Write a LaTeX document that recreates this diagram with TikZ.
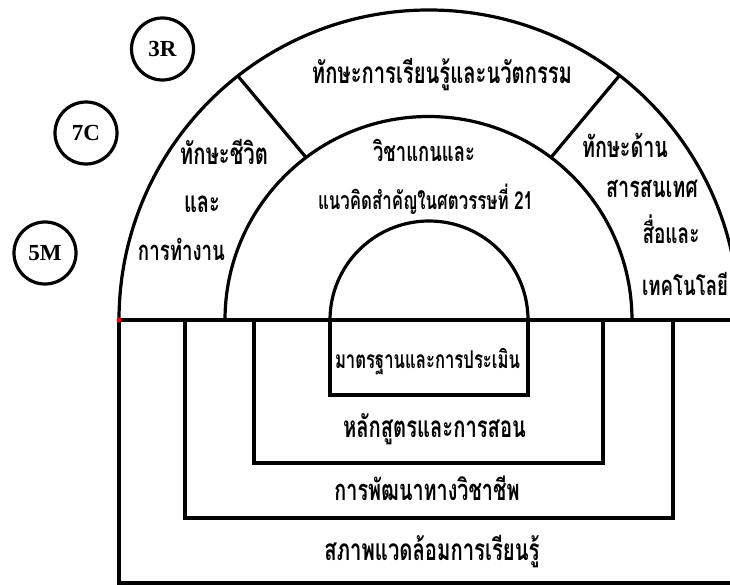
\documentclass[tikz,border=0pt]{standalone}
\usepackage{graphicx}
\usepackage{fontspec}
\setmainfont{Liberation Serif}
\newfontfamily\thai[Script=Thai,FakeStretch=0.68]{Loma}
\usetikzlibrary{calc}
\newcommand{\thw}[2]{\resizebox{#1pt}{!}{\thai\bfseries #2}}
\begin{document}
\begin{tikzpicture}[x=1pt,y=-1pt,
  ln/.style={line width=3.2pt},
  th/.style={anchor=base,inner sep=0pt},
  circ/.style={circle,draw,line width=3.2pt,minimum size=62pt,inner sep=0pt,
    font=\fontsize{23}{23}\selectfont\bfseries}]
\useasboundingbox (0,0) rectangle (730,585);
\clip (0,0) rectangle (730,585);
\fill[white] (0,0) rectangle (730,585);
\coordinate (C) at (428.5,320);
% arches
\draw[ln] (119,320) arc[start angle=180,end angle=360,radius=310];
\draw[ln] (225,320) arc[start angle=180,end angle=360,radius=203.5];
\draw[ln] (330,320) arc[start angle=180,end angle=360,radius=99];
\draw[ln] ($(C)+(232:310)$) -- ($(C)+(233:203.5)$);
\draw[ln] ($(C)+(308:310)$) -- ($(C)+(307:203.5)$);
% base line and boxes
\draw[ln] (119,320) -- (736,320);
\draw[ln] (119,320) -- (119,583) -- (736,583);
\draw[ln] (185,320) -- (185,518) -- (673,518) -- (673,320);
\draw[ln] (254,320) -- (254,463) -- (603,463) -- (603,320);
\draw[ln] (330,320) -- (330,395) -- (528,395) -- (528,320);
\fill[red] (119,320) circle[radius=2.5];
% circles
\node[circ] (c3r) at (162.5,49) {3R};
\node[circ] (c7c) at (86,133) {7C};
\node[circ] (c5m) at (45,253) {5M};
% texts
\node[th] (t1) at (442,84) {\thw{260}{ทักษะการเรียนรู้และนวัตกรรม}};
\node[th] (l1) at (224,165) {\thw{88}{ทักษะชีวิต}};
\node[th] (l2) at (202,213) {\thw{36}{และ}};
\node[th] (l3) at (181.5,260) {\thw{87}{การทำงาน}};
\node[th] (m1) at (424,162) {\thw{102}{วิชาแกนและ}};
\node[th] (m2) at (425.5,210) {\thw{215}{แนวคิดสำคัญในศตวรรษที่ 21}};
\node[th] (r1) at (625,158) {\thw{86}{ทักษะด้าน}};
\node[th] (r2) at (652,198) {\thw{92}{สารสนเทศ}};
\node[th] (r3) at (671,243) {\thw{57}{สื่อและ}};
\node[th] (r4) at (685,295) {\thw{86}{เทคโนโลยี}};
\node[th] (b1) at (427.5,368) {\thw{185}{มาตรฐานและการประเมิน}};
\node[th] (b2) at (434.5,437) {\thw{183}{หลักสูตรและการสอน}};
\node[th] (b3) at (427,500) {\thw{185}{การพัฒนาทางวิชาชีพ}};
\node[th] (b4) at (432,560) {\thw{215}{สภาพแวดล้อมการเรียนรู้}};
\end{tikzpicture}
\end{document}
